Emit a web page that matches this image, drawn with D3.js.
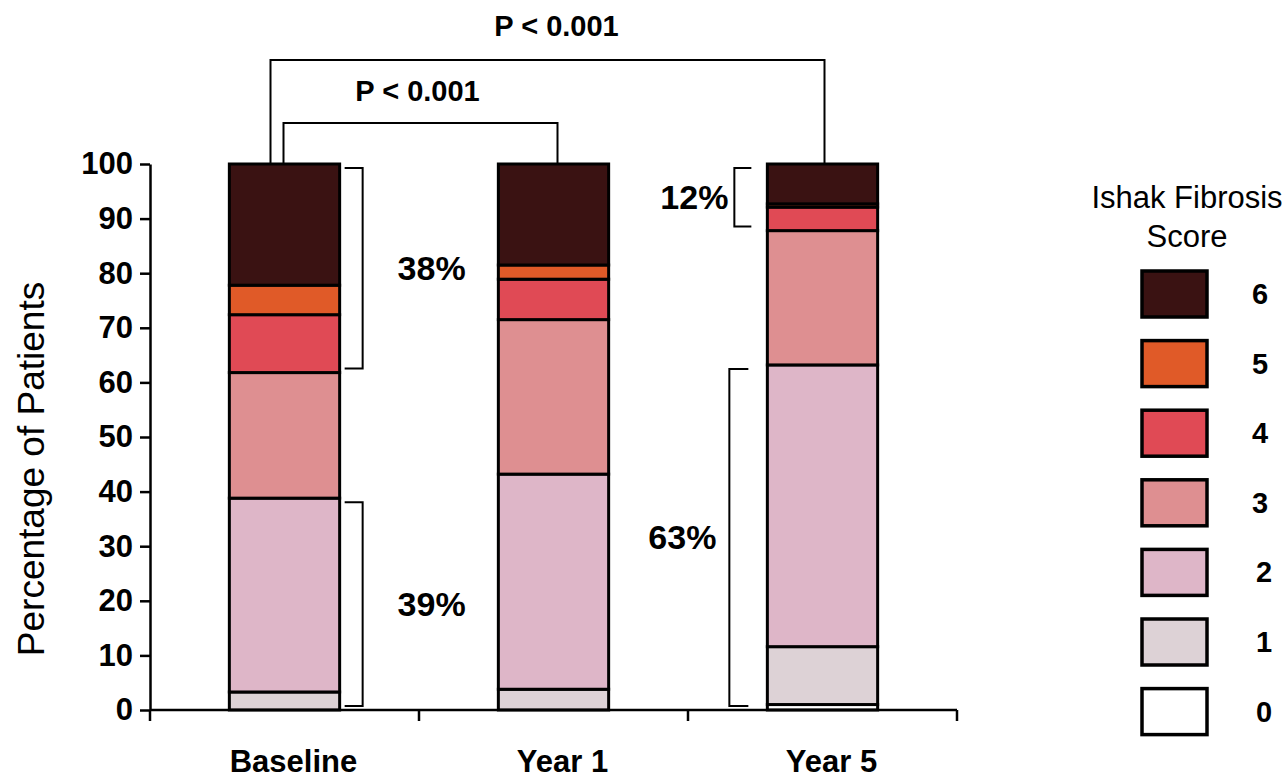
<!DOCTYPE html>
<html>
<head>
<meta charset="utf-8">
<script src="https://cdn.jsdelivr.net/npm/d3@7/dist/d3.min.js"></script>
<style>
  html, body { margin: 0; padding: 0; background: #fff; }
  svg { display: block; font-family: "Liberation Sans", Arial, Helvetica, sans-serif; }
</style>
</head>
<body>
<svg id="chart" width="1287" height="780"></svg>
<script>
// Timepoints and Ishak fibrosis score distribution (% of patients)
const categories = ["Baseline", "Year 1", "Year 5"];
const scores = ["0", "1", "2", "3", "4", "5", "6"];
const score0 = [0.0, 0.0, 1.0];
const score1 = [3.3, 3.8, 10.6];
const score2 = [35.5, 39.4, 51.6];
const score3 = [23.0, 28.3, 24.6];
const score4 = [10.6, 7.4, 4.3];
const score5 = [5.4, 2.6, 0.6];
const score6 = [22.2, 18.5, 7.3];
const yTicks = [0, 10, 20, 30, 40, 50, 60, 70, 80, 90, 100];
const colors = ["#ffffff", "#ddd2d6", "#deb6c8", "#de8f91", "#e04a55", "#e05a28", "#3a1212"];

// Summary brackets: category, score range, label
const sideBrackets = [
  { cat: "Baseline", from: 4, to: 6, label: "38%", side: "right" },
  { cat: "Baseline", from: 0, to: 2, label: "39%", side: "right" },
  { cat: "Year 5", from: 4, to: 6, label: "12%", side: "left" },
  { cat: "Year 5", from: 0, to: 2, label: "63%", side: "left" }
];
const pBrackets = [
  { a: "Baseline", b: "Year 1", label: "P < 0.001", level: 0 },
  { a: "Baseline", b: "Year 5", label: "P < 0.001", level: 1 }
];

const series = [score0, score1, score2, score3, score4, score5, score6];
const rows = categories.map((c, i) => {
  const r = { cat: c };
  scores.forEach((s, k) => { r[s] = series[k][i]; });
  return r;
});

const svg = d3.select("#chart");
const x0 = 150, x1 = 957, yTop = 164, yBot = 710;

const x = d3.scaleBand().domain(categories).range([x0, x1])
  .paddingInner(0.59).paddingOuter(0.295);
const y = d3.scaleLinear().domain([0, 100]).range([yBot, yTop]);

const stack = d3.stack().keys(scores)(rows);

// stacked bars
const g = svg.append("g");
stack.forEach((layer, k) => {
  g.selectAll(null).data(layer).enter().append("rect")
    .attr("x", d => x(d.data.cat))
    .attr("width", x.bandwidth())
    .attr("y", d => y(d[1]))
    .attr("height", d => Math.max(0, y(d[0]) - y(d[1])))
    .attr("fill", colors[k])
    .attr("stroke", "#000")
    .attr("stroke-width", 3);
});

// y axis
const yAxis = d3.axisLeft(y).tickValues(yTicks).tickSize(10).tickPadding(7).tickSizeOuter(0);
const ya = svg.append("g").attr("transform", `translate(${x0},0)`).call(yAxis);
ya.select(".domain").attr("stroke", "#000").attr("stroke-width", 2.5);
ya.selectAll(".tick line").attr("stroke", "#000").attr("stroke-width", 2.5);
ya.selectAll(".tick text").attr("font-size", 31).attr("font-weight", "bold")
  .attr("fill", "#000").attr("font-family", "Liberation Sans, Arial, sans-serif");

// x axis line with ticks at band boundaries
const xa = svg.append("g");
xa.append("line").attr("x1", x0).attr("x2", x1).attr("y1", yBot).attr("y2", yBot)
  .attr("stroke", "#000").attr("stroke-width", 2.5);
const bounds = [x0].concat(categories.map(c => x(c) - x.step() * x.paddingInner() / 2 + x.step()));
xa.selectAll(null).data(bounds).enter().append("line")
  .attr("x1", d => d).attr("x2", d => d).attr("y1", yBot).attr("y2", yBot + 11)
  .attr("stroke", "#000").attr("stroke-width", 2.5);
xa.selectAll(null).data(categories).enter().append("text")
  .attr("x", d => x(d) + x.bandwidth() / 2 + 9)
  .attr("y", 772)
  .attr("text-anchor", "middle")
  .attr("font-size", 31).attr("font-weight", "bold")
  .text(d => d);

// y axis title
svg.append("text")
  .attr("transform", `translate(44,469) rotate(-90)`)
  .attr("text-anchor", "middle")
  .attr("font-size", 37)
  .text("Percentage of Patients");

// significance brackets above bars
const pLevels = [
  { h: 123, ty: 101, dxa: -1, dxb: 4, tdx: -3 },
  { h: 60, ty: 36, dxa: -14, dxb: 2, tdx: 9 }
];
pBrackets.forEach(p => {
  const L = pLevels[p.level];
  const xa1 = x(p.a) + x.bandwidth() / 2 + L.dxa;
  const xb1 = x(p.b) + x.bandwidth() / 2 + L.dxb;
  svg.append("path")
    .attr("d", `M${xa1},${yTop}V${L.h}H${xb1}V${yTop}`)
    .attr("fill", "none").attr("stroke", "#000").attr("stroke-width", 2);
  svg.append("text")
    .attr("x", (xa1 + xb1) / 2 + L.tdx).attr("y", L.ty)
    .attr("text-anchor", "middle")
    .attr("font-size", 29).attr("font-weight", "bold")
    .text(p.label);
});

// side brackets summarising score ranges
const sideGeom = {
  "38%": { xe: 5, arm: 18, tdx: 69 },
  "39%": { xe: 5, arm: 18, tdx: 69 },
  "12%": { xe: -16, arm: 17, tdx: -40 },
  "63%": { xe: -19, arm: 19, tdx: -47 }
};
sideBrackets.forEach(b => {
  const i = categories.indexOf(b.cat);
  const lo = d3.sum(series.slice(0, b.from), s => s[i]);
  const hi = d3.sum(series.slice(0, b.to + 1), s => s[i]);
  const yA = y(hi) + 4, yB = y(lo) - 4;
  const G = sideGeom[b.label];
  let xe, xv;
  if (b.side === "right") {
    xe = x(b.cat) + x.bandwidth() + G.xe; xv = xe + G.arm;
  } else {
    xe = x(b.cat) + G.xe; xv = xe - G.arm;
  }
  svg.append("path")
    .attr("d", `M${xe},${yA}H${xv}V${yB}H${xe}`)
    .attr("fill", "none").attr("stroke", "#000").attr("stroke-width", 2);
  svg.append("text")
    .attr("x", xv + G.tdx).attr("y", (yA + yB) / 2 + 12)
    .attr("text-anchor", "middle")
    .attr("font-size", 34).attr("font-weight", "bold")
    .text(b.label);
});

// legend
const lg = svg.append("g");
lg.append("text").attr("x", 1187).attr("y", 208).attr("text-anchor", "middle")
  .attr("font-size", 31).text("Ishak Fibrosis");
lg.append("text").attr("x", 1187).attr("y", 247).attr("text-anchor", "middle")
  .attr("font-size", 31).text("Score");
const legendOrder = scores.slice().reverse();
lg.selectAll(null).data(legendOrder).enter().append("rect")
  .attr("x", 1142).attr("y", (d, i) => 271 + i * 69.6)
  .attr("width", 65).attr("height", 46)
  .attr("fill", d => colors[scores.indexOf(d)])
  .attr("stroke", "#000").attr("stroke-width", 3.5);
lg.selectAll(null).data(legendOrder).enter().append("text")
  .attr("x", (d, i) => 1260 + (i >= 4 ? 4 : 0)).attr("y", (d, i) => 294 + i * 69.6 + 10)
  .attr("text-anchor", "middle")
  .attr("font-size", 29).attr("font-weight", "bold")
  .text(d => d);
</script>
</body>
</html>
